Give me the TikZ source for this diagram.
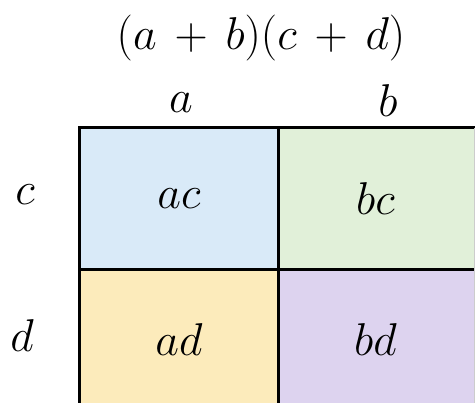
\documentclass[tikz,border=0pt]{standalone}
\usepackage{fix-cm}
\usepackage{amsmath}
\usepackage{amssymb}
\usepackage{tikz}

\definecolor{cellblue}{HTML}{D9EAF8}
\definecolor{cellgreen}{HTML}{E1F0D9}
\definecolor{cellyellow}{HTML}{FCEBBB}
\definecolor{cellpurple}{HTML}{DDD3EF}

\tikzset{
  big/.style={font=\fontsize{46}{52}\selectfont, inner sep=0pt},
  cell/.style={big, minimum width=198pt, minimum height=141pt, draw=none}
}

\begin{document}
\begin{tikzpicture}[x=1pt, y=-1pt]
            \useasboundingbox (0,0) rectangle (475,403);
            \clip (0,0) rectangle (475,403);
            \node[big] (prod) at (261,38) {$\medmuskip=7mu plus 2mu (a+b)(c+d)$};
            \node[big] (la) at (181,103) {$a$};
            \node[big] (lb) at (388,101) {$b$};
            \node[big] (lc) at (25,195) {$c$};
            \node[big] (ld) at (22,336) {$d$};
            \node[cell, fill=cellblue]   (ac) at (179,198.5) {$ac$};
            \node[cell, fill=cellgreen]  (bc) at (375.5,198.5) {$bc$};
            \node[cell, fill=cellyellow] (ad) at (179,339.5) {$ad$};
            \node[cell, fill=cellpurple] (bd) at (375.5,339.5) {$bd$};
            \draw[line width=3pt] (ad.south west) -- (ac.north west) -- (bc.north east);
            \draw[line width=3pt] (ac.north east) -- (ad.south east);
            \draw[line width=3pt] (ac.south west) -- (bc.south east);
            \draw[gray!40, line width=1pt] (bc.north east) -- (bd.south east);
        \end{tikzpicture}
\end{document}
